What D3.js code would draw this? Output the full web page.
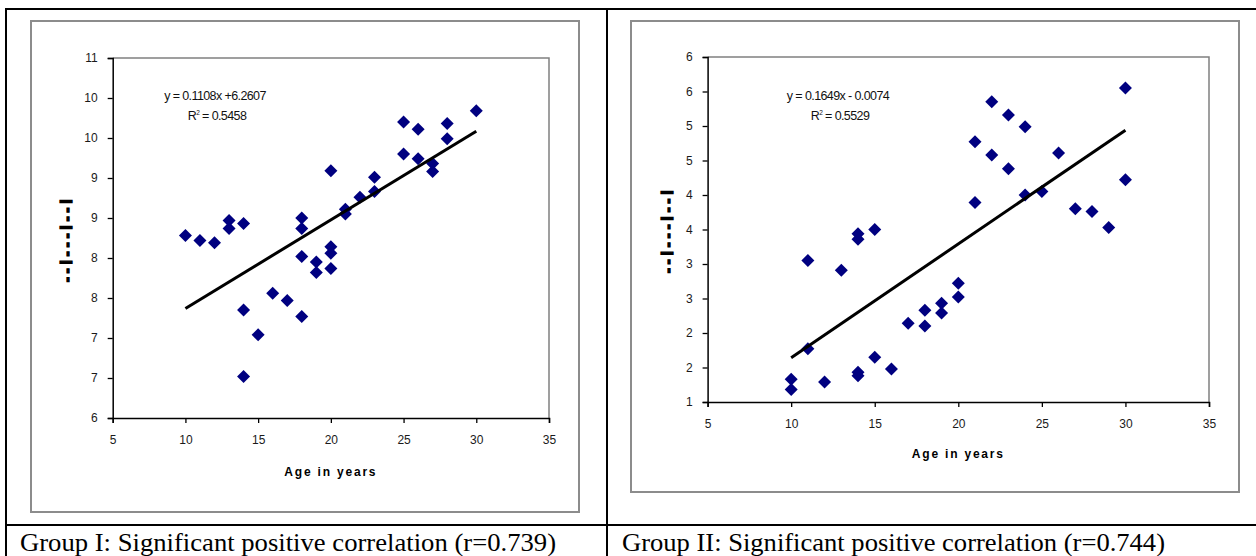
<!DOCTYPE html>
<html>
<head>
<meta charset="utf-8">
<script src="https://cdn.jsdelivr.net/npm/d3@7/dist/d3.min.js"></script>
<style>
  html, body { margin: 0; padding: 0; background: #fff; }
  svg { display: block; }
</style>
</head>
<body>
<svg id="chart" width="1256" height="556"></svg>
<script>
// ---- data ----
const xTicks = [5, 10, 15, 20, 25, 30, 35];

const g1Age = [10, 11, 12, 13, 13, 14, 14, 14, 15, 16, 17, 18, 18, 18, 18, 19, 19,
  20, 20, 20, 20, 21, 21, 22, 23, 23, 25, 25, 26, 26, 27, 27, 28, 28, 30];
const g1Value = [8.28, 8.22, 8.19, 8.47, 8.37, 8.43, 7.35, 6.52, 7.04, 7.56, 7.47, 8.50, 8.37, 8.02, 7.27, 7.95, 7.82,
  9.09, 8.14, 8.06, 7.87, 8.61, 8.55, 8.76, 9.01, 8.83, 9.70, 9.30, 9.61, 9.24, 9.18, 9.08, 9.68, 9.49, 9.84];
const g1YTicks = [6, 6.5, 7, 7.5, 8, 8.5, 9, 9.5, 10, 10.5];
const g1YTickLabels = ["6", "7", "7", "8", "8", "9", "9", "10", "10", "11"];
const g1Slope = 0.1108, g1Intercept = 6.2607;
const g1Equation = "y = 0.1108x +6.2607";
const g1R2 = "0.5458";
const g1Caption = "Group I: Significant positive correlation (r=0.739)";

const g2Age = [10, 10, 11, 11, 12, 13, 14, 14, 14, 14, 15, 15, 16, 17, 18, 18, 19, 19,
  20, 20, 21, 21, 22, 22, 23, 23, 24, 24, 25, 26, 27, 28, 29, 30, 30];
const g2Value = [1.33, 1.18, 3.05, 1.77, 1.29, 2.91, 3.44, 3.36, 1.43, 1.38, 3.50, 1.65, 1.48, 2.14, 2.33, 2.10, 2.43, 2.29,
  2.72, 2.52, 4.77, 3.89, 5.35, 4.58, 5.16, 4.38, 4.99, 4.00, 4.05, 4.61, 3.80, 3.76, 3.53, 5.55, 4.22];
const g2YTicks = [1, 1.5, 2, 2.5, 3, 3.5, 4, 4.5, 5, 5.5, 6];
const g2YTickLabels = ["1", "2", "2", "3", "3", "4", "4", "5", "5", "6", "6"];
const g2Slope = 0.1649, g2Intercept = -0.0074;
const g2Equation = "y = 0.1649x - 0.0074";
const g2R2 = "0.5529";
const g2Caption = "Group II: Significant positive correlation (r=0.744)";

const axisTitleX = "Age in years";
const axisTitleY = "--I---I--I";

// ---- drawing ----
const svg = d3.select("#chart");
const FONT = "'Liberation Sans', Arial, sans-serif";

// table grid around the two panels
const table = svg.append("g").attr("stroke", "#000").attr("stroke-width", 2);
table.append("line").attr("x1", 5).attr("x2", 1256).attr("y1", 9).attr("y2", 9);
table.append("line").attr("x1", 6).attr("x2", 6).attr("y1", 8).attr("y2", 556);
table.append("line").attr("x1", 607).attr("x2", 607).attr("y1", 8).attr("y2", 556);
table.append("line").attr("x1", 5).attr("x2", 1256).attr("y1", 525).attr("y2", 525);

function diamond(r) {
  return `M0,${-r}L${r},0L0,${r}L${-r},0Z`;
}

function panel(cfg) {
  const g = svg.append("g");

  // chart frame
  g.append("rect")
    .attr("x", cfg.frame[0]).attr("y", cfg.frame[1])
    .attr("width", cfg.frame[2] - cfg.frame[0]).attr("height", cfg.frame[3] - cfg.frame[1])
    .attr("fill", "#fff").attr("stroke", "#8c8c8c").attr("stroke-width", 2);

  const [pl, pt, pr, pb] = cfg.plot;
  const x = d3.scaleLinear().domain([5, 35]).range([pl, pr]);
  const y = d3.scaleLinear().domain([cfg.yTicks[0], cfg.yTicks[cfg.yTicks.length - 1]]).range([pb, pt]);

  // plot area outline (top / right in grey)
  g.append("path")
    .attr("d", `M${pl},${pt}H${pr}V${pb}`)
    .attr("fill", "none").attr("stroke", "#808080").attr("stroke-width", 1.5);

  const xAxis = g.append("g")
    .attr("transform", `translate(0,${pb})`)
    .call(d3.axisBottom(x).tickValues(xTicks).tickSize(5).tickPadding(12).tickFormat(d3.format("d")));
  const yAxis = g.append("g")
    .attr("transform", `translate(${pl},0)`)
    .call(d3.axisLeft(y).tickValues(cfg.yTicks).tickSize(5).tickPadding(10)
      .tickFormat((d, i) => cfg.yLabels[i]));

  [xAxis, yAxis].forEach(a => {
    a.select(".domain").attr("stroke", "#000").attr("stroke-width", 1.5);
    a.selectAll(".tick line").attr("stroke", "#000").attr("stroke-width", 1.3);
    a.selectAll(".tick text").attr("font-family", FONT).attr("font-size", 12).attr("fill", "#1a1a1a");
  });

  // points
  g.append("g").selectAll("path")
    .data(cfg.age.map((a, i) => [a, cfg.value[i]]))
    .join("path")
    .attr("d", diamond(6.5))
    .attr("transform", d => `translate(${x(d[0])},${y(d[1])})`)
    .attr("fill", "#000080");

  // linear trend line across the observed ages
  const [a0, a1] = d3.extent(cfg.age);
  g.append("line")
    .attr("x1", x(a0)).attr("y1", y(cfg.slope * a0 + cfg.intercept))
    .attr("x2", x(a1)).attr("y2", y(cfg.slope * a1 + cfg.intercept))
    .attr("stroke", "#000").attr("stroke-width", 3);

  // regression equation and R²
  g.append("text")
    .attr("x", cfg.eqPos[0]).attr("y", cfg.eqPos[1])
    .attr("text-anchor", "middle").attr("font-family", FONT).attr("font-size", 12.5)
    .attr("letter-spacing", -0.6).attr("fill", "#111")
    .text(cfg.equation);
  const r2 = g.append("text")
    .attr("x", cfg.eqPos[0] + 2).attr("y", cfg.eqPos[1] + 20)
    .attr("text-anchor", "middle").attr("font-family", FONT).attr("font-size", 12.5)
    .attr("letter-spacing", -0.6).attr("fill", "#111");
  r2.append("tspan").text("R");
  r2.append("tspan").attr("font-size", 6.5).attr("dy", -5).text("2");
  r2.append("tspan").attr("dy", 5).text(" = " + cfg.r2);

  // axis titles
  g.append("text")
    .attr("x", (pl + pr) / 2).attr("y", cfg.xTitleY)
    .attr("text-anchor", "middle").attr("font-family", FONT).attr("font-size", 12)
    .attr("font-weight", "bold").attr("letter-spacing", 1.8).attr("fill", "#000")
    .text(axisTitleX);
  g.append("text")
    .attr("transform", `translate(${cfg.yTitle[0]},${cfg.yTitle[1]}) rotate(-90)`)
    .attr("text-anchor", "middle").attr("font-family", FONT).attr("font-size", 16)
    .attr("font-weight", "bold").attr("fill", "#000").attr("stroke", "#000").attr("stroke-width", 1.3)
    .attr("letter-spacing", 3.6)
    .text(axisTitleY);

  // caption in the table row below
  svg.append("text")
    .attr("x", cfg.caption[0]).attr("y", 551)
    .attr("font-family", "'Liberation Serif', 'Times New Roman', serif").attr("font-size", 26)
    .attr("fill", "#000")
    .attr("textLength", cfg.caption[1]).attr("lengthAdjust", "spacingAndGlyphs")
    .text(cfg.captionText);
}

panel({
  frame: [31, 21, 579, 512],
  plot: [112.7, 58, 549, 418],
  yTicks: g1YTicks, yLabels: g1YTickLabels,
  age: g1Age, value: g1Value,
  slope: g1Slope, intercept: g1Intercept,
  equation: g1Equation, r2: g1R2, eqPos: [215, 100],
  xTitleY: 476, yTitle: [72, 239],
  caption: [20, 536], captionText: g1Caption
});

panel({
  frame: [631, 21, 1239, 492],
  plot: [707.6, 57, 1209, 402],
  yTicks: g2YTicks, yLabels: g2YTickLabels,
  age: g2Age, value: g2Value,
  slope: g2Slope, intercept: g2Intercept,
  equation: g2Equation, r2: g2R2, eqPos: [838, 100],
  xTitleY: 458, yTitle: [673, 230],
  caption: [622, 543], captionText: g2Caption
});
</script>
</body>
</html>
